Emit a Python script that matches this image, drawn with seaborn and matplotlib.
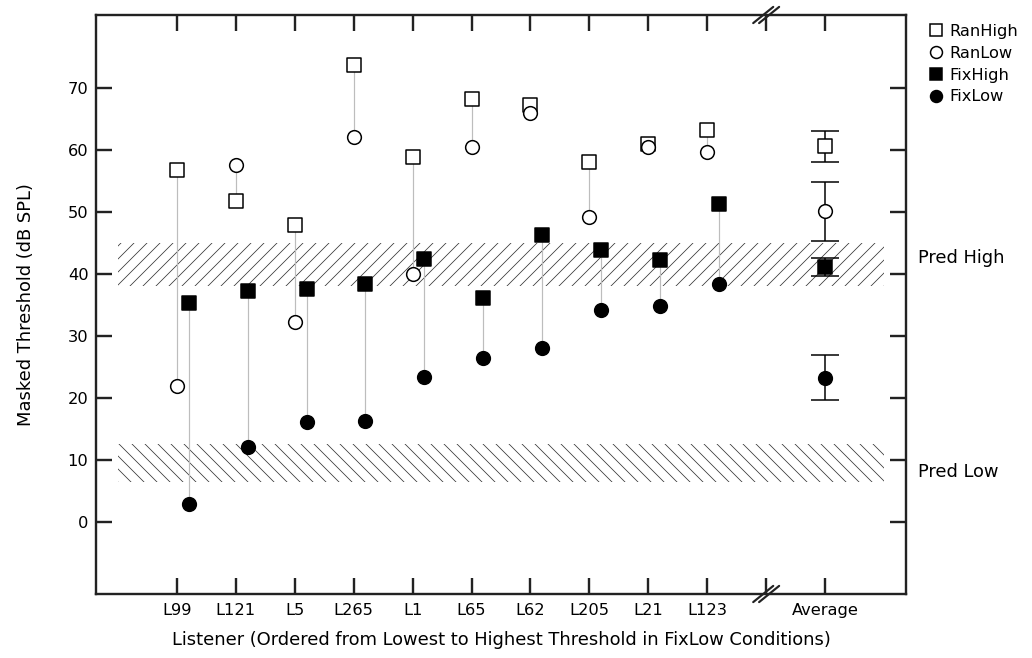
import numpy as np
import pandas as pd
import matplotlib
matplotlib.use("Agg")
import matplotlib.pyplot as plt
import seaborn as sns
from matplotlib.lines import Line2D
from matplotlib.patches import Rectangle

sns.set_theme(style="white")
plt.rcParams["font.family"] = ["DejaVu Sans"]
plt.rcParams["hatch.linewidth"] = 0.7
plt.rcParams["text.color"] = "black"
plt.rcParams["axes.labelcolor"] = "black"
plt.rcParams["xtick.color"] = "black"
plt.rcParams["ytick.color"] = "black"

# listener order (lowest -> highest FixLow threshold)
listeners = ["L99", "L121", "L5", "L265", "L1", "L65", "L62", "L205", "L21", "L123"]
ran_high = [56.8, 51.8, 47.9, 73.7, 58.8, 68.2, 67.3, 58.0, 61.0, 63.3]
ran_low = [21.9, 57.5, 32.2, 62.1, 40.0, 60.5, 66.0, 49.2, 60.5, 59.6]
fix_high = [35.4, 37.3, 37.5, 38.4, 42.4, 36.2, 46.3, 43.9, 42.3, 51.3]
fix_low = [2.9, 12.1, 16.2, 16.3, 23.4, 26.4, 28.0, 34.2, 34.8, 38.4]

# averages with error bars
conditions = ["RanHigh", "RanLow", "FixHigh", "FixLow"]
avg_mean = [60.6, 50.1, 41.1, 23.3]
avg_err = [2.5, 4.7, 1.5, 3.6]

# predicted bands (lo, hi)
pred_high = (38.0, 45.0)
pred_low = (6.4, 12.6)

x = np.arange(1, len(listeners) + 1)
x_avg = 12
fix_off = 0.2

df = pd.DataFrame({"listener": listeners, "x": x,
                   "RanHigh": ran_high, "RanLow": ran_low,
                   "FixHigh": fix_high, "FixLow": fix_low})

DPI = 78
fig = plt.figure(figsize=(1032 / DPI, 658 / DPI), dpi=DPI)
ax = fig.add_axes([96 / 1032, 64 / 658, 810 / 1032, 579 / 658])

# hatched prediction bands
ax.add_patch(Rectangle((0, pred_high[0]), 13, pred_high[1] - pred_high[0],
                       facecolor="none", edgecolor="#333333", linewidth=0,
                       hatch="//", zorder=1))
ax.add_patch(Rectangle((0, pred_low[0]), 13, pred_low[1] - pred_low[0],
                       facecolor="none", edgecolor="#333333", linewidth=0,
                       hatch="\\\\", zorder=1))

# grey connectors
ax.vlines(df["x"], df["RanLow"], df["RanHigh"], color="#bdbdbd", lw=1.1, zorder=2)
ax.vlines(df["x"] + fix_off, df["FixLow"], df["FixHigh"], color="#bdbdbd", lw=1.1, zorder=2)

# average error bars
ax.errorbar([x_avg] * 4, avg_mean, yerr=avg_err, fmt="none", ecolor="black",
            elinewidth=1.4, capsize=13, capthick=1.4, zorder=3)

styles = {
    "RanHigh": dict(marker="s", facecolor="white", off=0.0),
    "RanLow": dict(marker="o", facecolor="white", off=0.0),
    "FixHigh": dict(marker="s", facecolor="black", off=fix_off),
    "FixLow": dict(marker="o", facecolor="black", off=fix_off),
}
sz = 160
for i, cond in enumerate(conditions):
    st = styles[cond]
    sns.scatterplot(x=df["x"] + st["off"], y=df[cond], marker=st["marker"], s=sz,
                    color=st["facecolor"], edgecolor="black", linewidth=1.4,
                    ax=ax, zorder=4 + i, legend=False)
    sns.scatterplot(x=[x_avg], y=[avg_mean[i]], marker=st["marker"], s=sz,
                    color=st["facecolor"], edgecolor="black", linewidth=1.4,
                    ax=ax, zorder=4 + i, legend=False)

ax.set_xlim(-0.373, 13.373)
ax.set_ylim(-11.61, 81.77)
ax.set_xticks(list(x) + [11, x_avg])
ax.set_xticklabels(listeners + ["", "Average"])
ax.set_yticks(np.arange(0, 71, 10))
ax.tick_params(axis="both", direction="in", length=15, width=2.2, labelsize=15,
               top=True, right=True, bottom=True, left=True, color="#222222")
ax.tick_params(axis="x", pad=8)
ax.tick_params(axis="y", pad=7)
for sp in ax.spines.values():
    sp.set_linewidth(2.2)
    sp.set_color("#222222")

ax.set_xlabel("Listener (Ordered from Lowest to Highest Threshold in FixLow Conditions)",
              fontsize=16.5, labelpad=12)
ax.set_ylabel("Masked Threshold (dB SPL)", fontsize=16.5, labelpad=30)

# axis break marks at x = 11
trans = ax.get_xaxis_transform()
xb = 11
for yb in (0.0, 1.0):
    for dx in (-0.05, 0.05):
        ax.plot([xb + dx - 0.17, xb + dx + 0.17], [yb - 0.014, yb + 0.014],
                color="#222222", lw=2, transform=trans, clip_on=False, zorder=10)

# prediction labels on the right
ax.text(1.015, 42.6, "Pred High", transform=ax.get_yaxis_transform(),
        va="center", ha="left", fontsize=16.5)
ax.text(1.015, 8.1, "Pred Low", transform=ax.get_yaxis_transform(),
        va="center", ha="left", fontsize=16.5)

handles = [Line2D([], [], ls="none", marker=styles[c]["marker"],
                  markerfacecolor=styles[c]["facecolor"], markeredgecolor="black",
                  markeredgewidth=1.4, markersize=11, label=c) for c in conditions]
fig.legend(handles=handles, loc="upper left", bbox_to_anchor=(929 / 1032, 1 - 24 / 658),
           frameon=False, fontsize=15, handletextpad=0.35, labelspacing=0.42,
           handlelength=0.9, borderaxespad=0, borderpad=0)

fig.savefig("out.png", dpi=DPI)
